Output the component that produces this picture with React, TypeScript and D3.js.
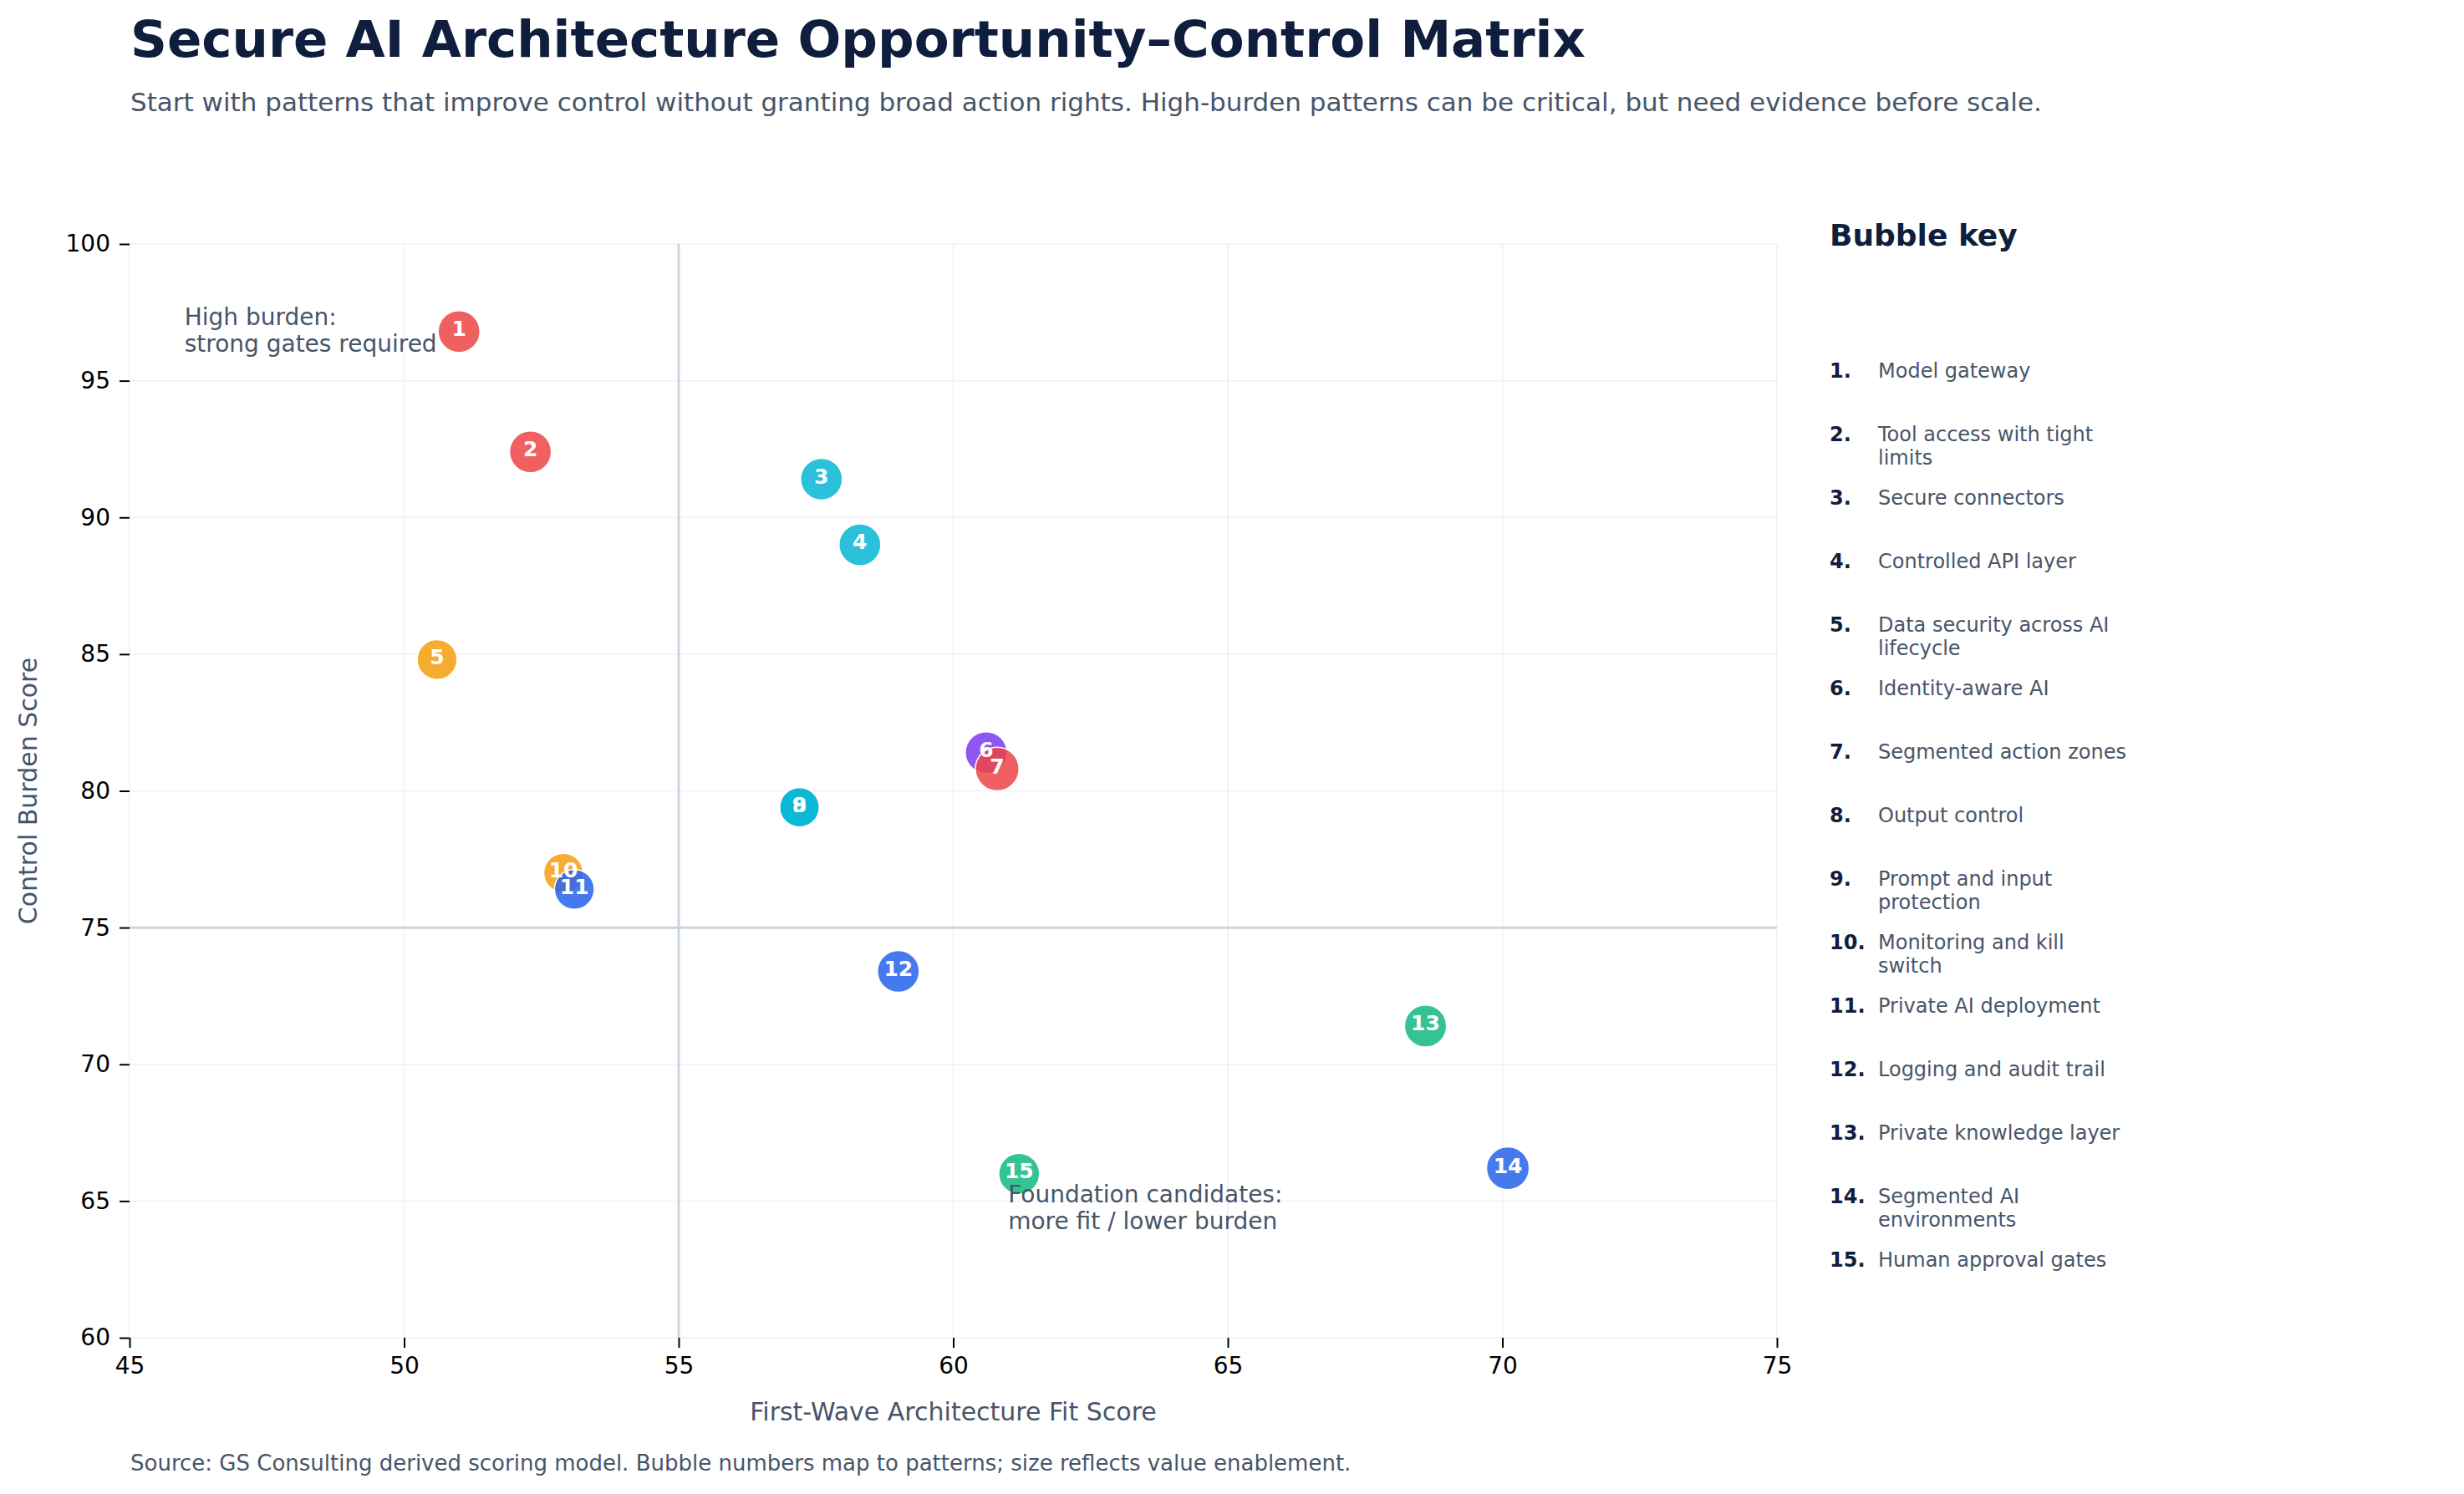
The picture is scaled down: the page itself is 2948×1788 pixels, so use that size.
import React, { useEffect, useRef } from "react";
import * as d3 from "d3";

// pattern data
const patternIds = [1, 2, 3, 4, 5, 6, 7, 8, 9, 10, 11, 12, 13, 14, 15];
const patternNames = [
  ["Model gateway"],
  ["Tool access with tight", "limits"],
  ["Secure connectors"],
  ["Controlled API layer"],
  ["Data security across AI", "lifecycle"],
  ["Identity-aware AI"],
  ["Segmented action zones"],
  ["Output control"],
  ["Prompt and input", "protection"],
  ["Monitoring and kill", "switch"],
  ["Private AI deployment"],
  ["Logging and audit trail"],
  ["Private knowledge layer"],
  ["Segmented AI", "environments"],
  ["Human approval gates"],
];
const fitScores = [51.0, 52.3, 57.6, 58.3, 50.6, 60.6, 60.8, 57.2, 57.2, 52.9, 53.1, 59.0, 68.6, 70.1, 61.2];
const burdenScores = [96.8, 92.4, 91.4, 89.0, 84.8, 81.4, 80.8, 79.4, 79.4, 77.0, 76.4, 73.4, 71.4, 66.2, 66.0];
const valueScores = [86, 86, 86, 86, 78, 86, 94, 77, 77, 76, 78, 86, 87, 90, 82];
const groups = ["red", "red", "cyan", "cyan", "amber", "purple", "red", "cyan", "cyan", "amber", "blue", "blue", "green", "blue", "green"];

const xTicks = [45, 50, 55, 60, 65, 70, 75];
const yTicks = [60, 65, 70, 75, 80, 85, 90, 95, 100];

const groupColors = {
  red: "#ef4444",
  cyan: "#06b6d4",
  amber: "#f59e0b",
  purple: "#7c3aed",
  blue: "#2563eb",
  green: "#10b981",
};

const W = 2948;
const H = 1788;
const FONT = "DejaVu Sans, Verdana, sans-serif";
const NAVY = "#0f1e3c";
const SLATE = "#475569";

const App = () => {
  const svgRef = useRef(null);

  useEffect(() => {
    const svg = d3.select(svgRef.current);
    svg.selectAll("*").remove();

    const plot = { left: 155, right: 2126, top: 292, bottom: 1601 };

    const xScale = d3.scaleLinear().domain([45, 75]).range([plot.left, plot.right]);
    const yScale = d3.scaleLinear().domain([60, 100]).range([plot.bottom, plot.top]);
    const rScale = d3.scaleSqrt().domain([0, 100]).range([0, 27]);

    svg.append("rect").attr("width", W).attr("height", H).attr("fill", "#fff");

    // titles
    svg
      .append("text")
      .attr("x", 156)
      .attr("y", 68)
      .attr("font-size", 61)
      .attr("font-weight", "bold")
      .attr("fill", NAVY)
      .text("Secure AI Architecture Opportunity–Control Matrix");
    svg
      .append("text")
      .attr("x", 156)
      .attr("y", 133)
      .attr("font-size", 31)
      .attr("fill", SLATE)
      .text(
        "Start with patterns that improve control without granting broad action rights. High-burden patterns can be critical, but need evidence before scale."
      );

    // grid
    const grid = svg.append("g");
    grid
      .selectAll("line.gx")
      .data(xTicks)
      .join("line")
      .attr("x1", (d) => xScale(d))
      .attr("x2", (d) => xScale(d))
      .attr("y1", plot.top)
      .attr("y2", plot.bottom)
      .attr("stroke", "#eef1f5")
      .attr("stroke-width", 1.5);
    grid
      .selectAll("line.gy")
      .data(yTicks)
      .join("line")
      .attr("x1", plot.left)
      .attr("x2", plot.right)
      .attr("y1", (d) => yScale(d))
      .attr("y2", (d) => yScale(d))
      .attr("stroke", "#eef1f5")
      .attr("stroke-width", 1.5);

    // quadrant dividers
    svg
      .append("line")
      .attr("x1", xScale(55))
      .attr("x2", xScale(55))
      .attr("y1", plot.top)
      .attr("y2", plot.bottom)
      .attr("stroke", "#cbd5e1")
      .attr("stroke-width", 3);
    svg
      .append("line")
      .attr("x1", plot.left)
      .attr("x2", plot.right)
      .attr("y1", yScale(75))
      .attr("y2", yScale(75))
      .attr("stroke", "#cbd5e1")
      .attr("stroke-width", 3);

    // axes
    const xAxis = d3.axisBottom(xScale).tickValues(xTicks).tickSize(12).tickPadding(11);
    const gx = svg.append("g").attr("transform", `translate(0, ${plot.bottom})`).call(xAxis);
    const yAxis = d3.axisLeft(yScale).tickValues(yTicks).tickSize(12).tickPadding(11);
    const gy = svg.append("g").attr("transform", `translate(${plot.left}, 0)`).call(yAxis);
    [gx, gy].forEach((g) => {
      g.select(".domain").remove();
      g.selectAll(".tick line").attr("stroke", "#000").attr("stroke-width", 2);
      g.selectAll(".tick text").attr("font-size", 28).attr("font-family", FONT).attr("fill", "#000");
    });

    svg
      .append("text")
      .attr("x", (plot.left + plot.right) / 2)
      .attr("y", 1700)
      .attr("text-anchor", "middle")
      .attr("font-size", 30)
      .attr("fill", SLATE)
      .text("First-Wave Architecture Fit Score");
    svg
      .append("text")
      .attr("transform", `translate(44, ${(plot.top + plot.bottom) / 2}) rotate(-90)`)
      .attr("text-anchor", "middle")
      .attr("font-size", 30)
      .attr("fill", SLATE)
      .text("Control Burden Score");

    // bubbles
    const points = patternIds.map((id, i) => ({
      id,
      x: fitScores[i],
      y: burdenScores[i],
      v: valueScores[i],
      color: groupColors[groups[i]],
    }));

    svg
      .append("g")
      .selectAll("circle")
      .data(points)
      .join("circle")
      .attr("cx", (d) => xScale(d.x))
      .attr("cy", (d) => yScale(d.y))
      .attr("r", (d) => rScale(d.v))
      .attr("fill", (d) => d.color)
      .attr("fill-opacity", 0.85)
      .attr("stroke", "#fff")
      .attr("stroke-width", 1.5);

    svg
      .append("g")
      .selectAll("text")
      .data(points)
      .join("text")
      .attr("x", (d) => xScale(d.x))
      .attr("y", (d) => yScale(d.y) - 3)
      .attr("text-anchor", "middle")
      .attr("dominant-baseline", "central")
      .attr("font-size", 25)
      .attr("font-weight", "bold")
      .attr("fill", "#fff")
      .text((d) => d.id);

    // quadrant notes
    const note = (x, y, lines) => {
      const t = svg
        .append("text")
        .attr("x", xScale(x))
        .attr("y", yScale(y))
        .attr("font-size", 28)
        .attr("fill", SLATE);
      lines.forEach((l, i) =>
        t
          .append("tspan")
          .attr("x", xScale(x))
          .attr("dy", i === 0 ? "0.76em" : 32)
          .text(l)
      );
    };
    note(46, 97.7, ["High burden:", "strong gates required"]);
    note(61.0, 65.6, ["Foundation candidates:", "more fit / lower burden"]);

    // bubble key
    svg
      .append("text")
      .attr("x", 2189)
      .attr("y", 294)
      .attr("font-size", 36)
      .attr("font-weight", "bold")
      .attr("fill", NAVY)
      .text("Bubble key");

    const rowY = d3.scaleLinear().domain([1, 15]).range([452, 1516]);
    const rows = svg
      .append("g")
      .selectAll("g")
      .data(patternIds)
      .join("g")
      .attr("transform", (d) => `translate(0, ${rowY(d)})`);
    rows
      .append("text")
      .attr("x", 2189)
      .attr("font-size", 24)
      .attr("font-weight", "bold")
      .attr("fill", NAVY)
      .text((d) => `${d}.`);
    rows.each(function (d, i) {
      const t = d3
        .select(this)
        .append("text")
        .attr("font-size", 24)
        .attr("fill", SLATE);
      patternNames[i].forEach((l, j) =>
        t
          .append("tspan")
          .attr("x", 2247)
          .attr("dy", j === 0 ? 0 : 28)
          .text(l)
      );
    });

    svg
      .append("text")
      .attr("x", 156)
      .attr("y", 1760)
      .attr("font-size", 26)
      .attr("fill", SLATE)
      .text(
        "Source: GS Consulting derived scoring model. Bubble numbers map to patterns; size reflects value enablement."
      );
  }, []);

  return (
    <div style={{ position: "absolute", left: 0, top: 0 }}>
      <svg ref={svgRef} width={W} height={H} style={{ display: "block", fontFamily: FONT }} />
    </div>
  );
};

export default App;
